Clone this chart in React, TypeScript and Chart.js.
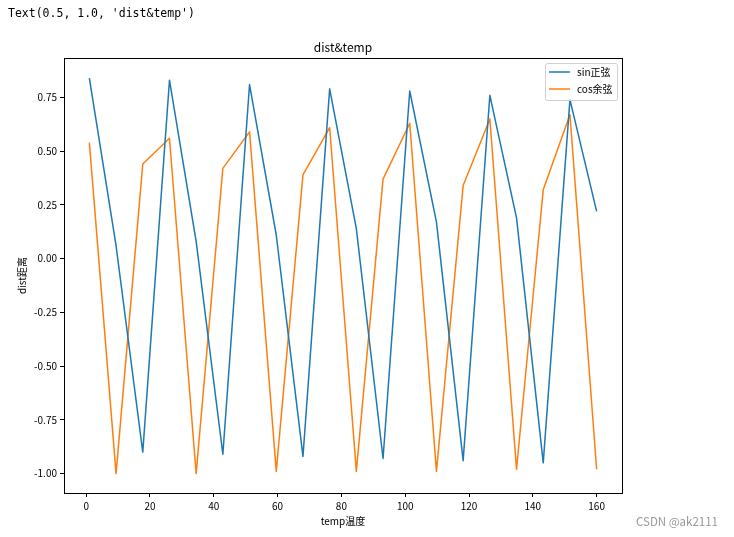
import React, { useEffect, useRef } from "react";
import { Chart, registerables } from "chart.js";

Chart.register(...registerables);

const temps = [1, 9.37, 17.74, 26.11, 34.47, 42.84, 51.21, 59.58, 67.95, 76.32, 84.68, 93.05, 101.42, 109.79, 118.16, 126.53, 134.89, 143.26, 151.63, 160];
const sinValues = [0.84, 0.06, -0.9, 0.83, 0.08, -0.91, 0.81, 0.11, -0.92, 0.79, 0.14, -0.93, 0.78, 0.17, -0.94, 0.76, 0.19, -0.95, 0.74, 0.22];
const cosValues = [0.54, -1.0, 0.44, 0.56, -1.0, 0.42, 0.59, -0.99, 0.39, 0.61, -0.99, 0.37, 0.63, -0.99, 0.34, 0.65, -0.98, 0.32, 0.67, -0.98];
const xTicks = [0, 20, 40, 60, 80, 100, 120, 140, 160];
const yTicks = [-1.0, -0.75, -0.5, -0.25, 0.0, 0.25, 0.5, 0.75];
const seriesNames = ["sin正弦", "cos余弦"];
const seriesColors = ["#1f77b4", "#ff7f0e"];

const FONT = "'Noto Sans CJK SC', 'DejaVu Sans', sans-serif";

export default function App() {
  const ref = useRef<HTMLCanvasElement | null>(null);
  useEffect(() => {
    if (!ref.current) return;
    const textPlugin = {
      id: "texts",
      afterDraw(chart: any) {
        const ctx = chart.ctx;
        const a = chart.chartArea;
        ctx.save();
        ctx.strokeStyle = "#000";
        ctx.lineWidth = 1;
        ctx.strokeRect(Math.round(a.left) + 0.5, Math.round(a.top) + 0.5, Math.round(a.right - a.left), Math.round(a.bottom - a.top));
        ctx.fillStyle = "#000";
        ctx.font = "11.5px 'DejaVu Sans Mono', monospace";
        ctx.textBaseline = "middle";
        ctx.textAlign = "left";
        ctx.fillText("Text(0.5, 1.0, 'dist&temp')", 8, 14);
        ctx.font = `12px ${FONT}`;
        ctx.textAlign = "center";
        ctx.fillText("dist&temp", (a.left + a.right) / 2, 47);
        ctx.font = `10px ${FONT}`;
        ctx.fillText("temp温度", (a.left + a.right) / 2, 521);
        ctx.save();
        ctx.translate(22, (a.top + a.bottom) / 2);
        ctx.rotate(-Math.PI / 2);
        ctx.fillText("dist距离", 0, 0);
        ctx.restore();
        const lx = 545, ly = 63, lw = 72, lh = 37;
        ctx.fillStyle = "rgba(255,255,255,0.8)";
        ctx.strokeStyle = "#d0d0d0";
        ctx.beginPath();
        ctx.roundRect(lx + 0.5, ly + 0.5, lw, lh, 2);
        ctx.fill();
        ctx.stroke();
        seriesNames.forEach((name, i) => {
          const y = 72 + i * 17;
          ctx.strokeStyle = seriesColors[i];
          ctx.lineWidth = 1.5;
          ctx.beginPath();
          ctx.moveTo(549, y);
          ctx.lineTo(570, y);
          ctx.stroke();
          ctx.fillStyle = "#000";
          ctx.textAlign = "left";
          ctx.font = `10px ${FONT}`;
          ctx.fillText(name, 577, y);
        });
        ctx.fillStyle = "#999";
        ctx.font = `11.5px ${FONT}`;
        ctx.textAlign = "left";
        ctx.fillText("CSDN @ak2111", 636, 522);
        ctx.restore();
      },
    };
    const chart = new Chart(ref.current, {
      type: "line",
      data: {
        datasets: [sinValues, cosValues].map((vals, i) => ({
          label: seriesNames[i],
          data: temps.map((t, j) => ({ x: t, y: vals[j] })),
          borderColor: seriesColors[i],
          backgroundColor: seriesColors[i],
          borderWidth: 1.5,
          borderJoinStyle: "round",
          borderCapStyle: "butt",
          pointRadius: 0,
          tension: 0,
          fill: false,
        })),
      },
      options: {
        animation: false,
        responsive: false,
        layout: { padding: { left: 0, top: 58, right: 112, bottom: 0 } },
        plugins: { legend: { display: false }, title: { display: false }, tooltip: { enabled: false } },
        scales: {
          x: {
            type: "linear",
            min: -6.95,
            max: 167.95,
            afterBuildTicks: (s: any) => { s.ticks = xTicks.map((v) => ({ value: v })); },
            afterFit: (s: any) => { s.height = 44; },
            grid: { drawOnChartArea: false, drawTicks: true, tickLength: 4, color: "#000" },
            border: { display: true, color: "#000" },
            ticks: { color: "#000", font: { size: 10, family: FONT }, padding: 3, maxRotation: 0, callback: (v: any) => String(v) },
          },
          y: {
            type: "linear",
            min: -1.0904,
            max: 0.9335,
            afterBuildTicks: (s: any) => { s.ticks = yTicks.map((v) => ({ value: v })); },
            afterFit: (s: any) => { s.width = 64; },
            grid: { drawOnChartArea: false, drawTicks: true, tickLength: 4, color: "#000" },
            border: { display: true, color: "#000" },
            ticks: { color: "#000", font: { size: 10, family: FONT }, padding: 3, callback: (v: any) => Number(v).toFixed(2) },
          },
        },
      },
      plugins: [textPlugin],
    } as any);
    return () => chart.destroy();
  }, []);
  return (
    <div style={{ position: "absolute", left: 0, top: 0, width: 734, height: 537, background: "#fff" }}>
      <canvas ref={ref} width={734} height={537} style={{ width: 734, height: 537 }} />
    </div>
  );
}
